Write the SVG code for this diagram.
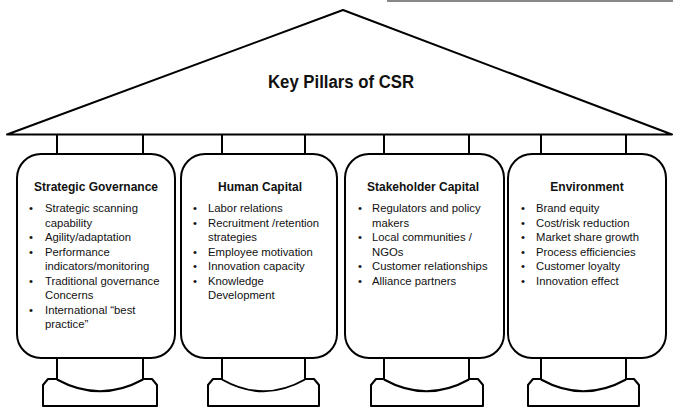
<svg xmlns="http://www.w3.org/2000/svg" width="673" height="408" viewBox="0 0 673 408">
<style>
.ln{fill:none;stroke:#000;stroke-width:2;stroke-linejoin:round}
.bd{fill:#fff;stroke:#000;stroke-width:2}
.t{font-family:"Liberation Sans",Arial,sans-serif;fill:#111}
.ttl{font-size:18px;font-weight:bold;text-anchor:middle}
.hd{font-size:12px;font-weight:bold;text-anchor:middle}
.it{font-size:11.3px}
</style>
<rect width="673" height="408" fill="#fff"/>
<line x1="387" y1="1" x2="673" y2="1" stroke="#888" stroke-width="2"/>
<g id="roof">
<polygon class="ln" points="7,134.5 343,10 672,134.5"/>
<text class="t ttl" x="341" y="88" textLength="146" lengthAdjust="spacingAndGlyphs">Key Pillars of CSR</text>
</g>
<g id="connectors">
<path class="ln" d="M57,134.5V154M143,134.5V154M222,134.5V154M305,134.5V154M384,134.5V154M469,134.5V154M541,134.5V154M626,134.5V154"/>
</g>
<g id="pillar1">
<path class="ln" d="M57,358V380M143,358V380M57,379.5Q100,403 143,379.5M57,379H48L43,385V406H157V385L152,379H143"/>
<rect class="bd" x="17" y="154" width="158" height="204" rx="24" ry="24"/>
<text class="t hd" x="96" y="191">Strategic Governance</text>
<g class="t it">
<text x="29" y="212">•</text><text x="45" y="212">Strategic scanning</text>
<text x="45" y="226.5">capability</text>
<text x="29" y="241">•</text><text x="45" y="241">Agility/adaptation</text>
<text x="29" y="255.5">•</text><text x="45" y="255.5">Performance</text>
<text x="45" y="270">indicators/monitoring</text>
<text x="29" y="284.5">•</text><text x="45" y="284.5">Traditional governance</text>
<text x="45" y="299">Concerns</text>
<text x="29" y="313.5">•</text><text x="45" y="313.5">International “best</text>
<text x="45" y="328">practice”</text>
</g>
</g>
<g id="pillar2">
<path class="ln" d="M222,358V380M305,358V380M222,379.5Q263.5,403 305,379.5M222,379H213L208,385V406H319V385L314,379H305"/>
<rect class="bd" x="181" y="154" width="156" height="204" rx="24" ry="24"/>
<text class="t hd" x="260" y="191">Human Capital</text>
<g class="t it">
<text x="193" y="212">•</text><text x="208" y="212">Labor relations</text>
<text x="193" y="226.5">•</text><text x="208" y="226.5">Recruitment /retention</text>
<text x="208" y="241">strategies</text>
<text x="193" y="255.5">•</text><text x="208" y="255.5">Employee motivation</text>
<text x="193" y="270">•</text><text x="208" y="270">Innovation capacity</text>
<text x="193" y="284.5">•</text><text x="208" y="284.5">Knowledge</text>
<text x="208" y="299">Development</text>
</g>
</g>
<g id="pillar3">
<path class="ln" d="M384,358V380M469,358V380M384,379.5Q426.5,403 469,379.5M384,379H376L371,385V406H483V385L478,379H469"/>
<rect class="bd" x="345" y="154" width="159" height="204" rx="24" ry="24"/>
<text class="t hd" x="423" y="191">Stakeholder Capital</text>
<g class="t it">
<text x="358" y="212">•</text><text x="372" y="212">Regulators and policy</text>
<text x="372" y="226.5">makers</text>
<text x="358" y="241">•</text><text x="372" y="241">Local communities /</text>
<text x="372" y="255.5">NGOs</text>
<text x="358" y="270">•</text><text x="372" y="270">Customer relationships</text>
<text x="358" y="284.5">•</text><text x="372" y="284.5">Alliance partners</text>
</g>
</g>
<g id="pillar4">
<path class="ln" d="M541,358V380M626,358V380M541,379.5Q583.5,403 626,379.5M541,379H533L528,385V406H639V385L634,379H626"/>
<rect class="bd" x="508" y="154" width="158" height="204" rx="24" ry="24"/>
<text class="t hd" x="587" y="191">Environment</text>
<g class="t it">
<text x="521" y="212">•</text><text x="536" y="212">Brand equity</text>
<text x="521" y="226.5">•</text><text x="536" y="226.5">Cost/risk reduction</text>
<text x="521" y="241">•</text><text x="536" y="241">Market share growth</text>
<text x="521" y="255.5">•</text><text x="536" y="255.5">Process efficiencies</text>
<text x="521" y="270">•</text><text x="536" y="270">Customer loyalty</text>
<text x="521" y="284.5">•</text><text x="536" y="284.5">Innovation effect</text>
</g>
</g>
</svg>
